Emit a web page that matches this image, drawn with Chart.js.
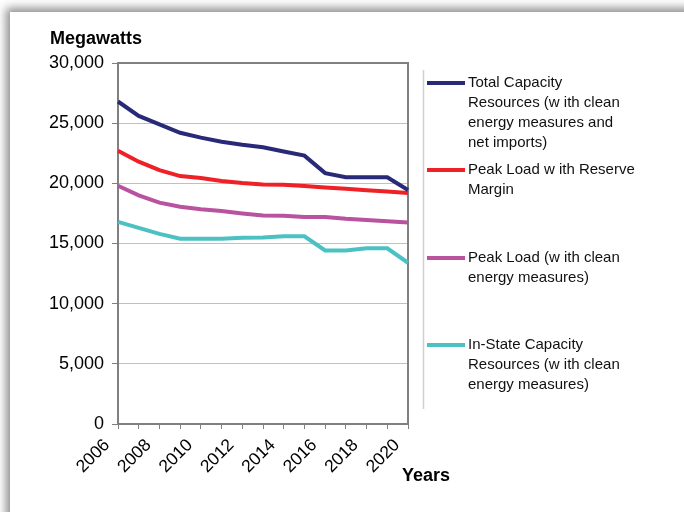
<!DOCTYPE html>
<html>
<head>
<meta charset="utf-8">
<script src="https://cdn.jsdelivr.net/npm/chart.js@4"></script>
<style>
  html, body { margin: 0; padding: 0; width: 684px; height: 512px; overflow: hidden; background: #fff; }
  .frame { position: absolute; left: 10px; top: 12px; width: 720px; height: 540px; background: #fff;
           box-shadow: -3px -3px 9px 1px rgba(0,0,0,0.45); }
  #chart { position: absolute; left: 0; top: 0; }
</style>
</head>
<body>
<div class="frame"></div>
<canvas id="chart" width="684" height="512"></canvas>
<script>
// Years on the horizontal axis
const years = ['2006','2007','2008','2009','2010','2011','2012','2013','2014','2015','2016','2017','2018','2019','2020'];

// Megawatts per year
const totalCapacity   = [26800, 25600, 24900, 24200, 23800, 23450, 23200, 23000, 22650, 22300, 20850, 20500, 20500, 20500, 19450];
const peakReserve     = [22700, 21800, 21100, 20600, 20450, 20200, 20030, 19900, 19880, 19770, 19650, 19550, 19430, 19320, 19200];
const peakLoad        = [19800, 19000, 18400, 18050, 17850, 17700, 17500, 17320, 17300, 17200, 17200, 17050, 16950, 16850, 16750];
const inStateCapacity = [16800, 16300, 15800, 15400, 15400, 15400, 15480, 15500, 15600, 15600, 14420, 14420, 14600, 14600, 13400];

// Legend text, one entry per series, already broken into lines
const seriesNames = [
  ['Total Capacity', 'Resources (w ith clean', 'energy measures and', 'net imports)'],
  ['Peak Load w ith Reserve', 'Margin'],
  ['Peak Load (w ith clean', 'energy measures)'],
  ['In-State Capacity', 'Resources (w ith clean', 'energy measures)']
];

const colors = ['#282a78', '#ee2127', '#b9529f', '#4bc1c3'];
const FONT = '"Liberation Sans", Arial, sans-serif';

// Plot frame, axis captions and the side legend
const decorations = {
  id: 'decorations',
  beforeDatasetsDraw(chart) {
    const { ctx, chartArea: a } = chart;
    ctx.save();
    ctx.strokeStyle = '#808080';
    ctx.lineWidth = 2;
    ctx.strokeRect(a.left, a.top, a.right - a.left, a.bottom - a.top);
    ctx.restore();
  },
  afterDraw(chart) {
    const { ctx, chartArea: a } = chart;
    ctx.save();
    ctx.fillStyle = '#000';
    ctx.textBaseline = 'middle';
    ctx.textAlign = 'left';
    ctx.font = 'bold 18px ' + FONT;
    ctx.fillText('Megawatts', 50, 39);
    ctx.fillText('Years', a.right - 6, 476);

    // legend separator
    ctx.strokeStyle = '#d0d0d0';
    ctx.lineWidth = 1.5;
    ctx.beginPath();
    ctx.moveTo(a.right + 15.5, 70);
    ctx.lineTo(a.right + 15.5, 409);
    ctx.stroke();

    const entryTops = [83, 170, 258, 345];
    ctx.font = '15px ' + FONT;
    seriesNames.forEach((lines, i) => {
      const y0 = entryTops[i];
      ctx.strokeStyle = colors[i];
      ctx.lineWidth = 4;
      ctx.beginPath();
      ctx.moveTo(a.right + 19, y0);
      ctx.lineTo(a.right + 57, y0);
      ctx.stroke();
      ctx.fillStyle = '#111';
      lines.forEach((t, k) => ctx.fillText(t, a.right + 60, y0 + k * 20));
    });
    ctx.restore();
  }
};

const series = [totalCapacity, peakReserve, peakLoad, inStateCapacity];

new Chart(document.getElementById('chart'), {
  type: 'line',
  data: {
    labels: years,
    datasets: series.map((d, i) => ({
      label: seriesNames[i].join(' '),
      data: d,
      borderColor: colors[i],
      backgroundColor: colors[i],
      borderWidth: 4,
      pointRadius: 0,
      tension: 0,
      fill: false
    }))
  },
  options: {
    responsive: false,
    animation: false,
    devicePixelRatio: 1,
    layout: { padding: { left: 0, top: 63, right: 276, bottom: 0 } },
    plugins: { legend: { display: false }, tooltip: { enabled: false } },
    scales: {
      x: {
        type: 'category',
        offset: false,
        afterFit(s) { s.height = 88; },
        grid: { drawOnChartArea: false, drawTicks: true, tickLength: 5, tickColor: '#808080', tickWidth: 1 },
        border: { color: '#808080', width: 2 },
        ticks: {
          autoSkip: false,
          minRotation: 45,
          maxRotation: 45,
          padding: 6,
          labelOffset: -11,
          color: '#000',
          font: { family: FONT, size: 17.5 },
          callback(v, i) { return i % 2 === 0 ? years[i] : ''; }
        }
      },
      y: {
        min: 0,
        max: 30000,
        afterFit(s) { s.width = 118; },
        grid: { color: '#c0c0c0', lineWidth: 1, drawTicks: true, tickLength: 6, tickColor: '#808080' },
        border: { color: '#808080', width: 2 },
        ticks: {
          stepSize: 5000,
          padding: 8,
          color: '#000',
          font: { family: FONT, size: 18 },
          callback(v) { return v.toLocaleString('en-US'); }
        }
      }
    }
  },
  plugins: [decorations]
});
</script>
</body>
</html>
